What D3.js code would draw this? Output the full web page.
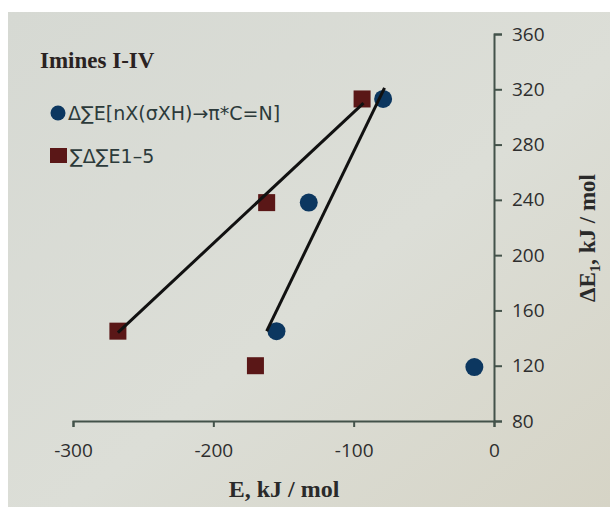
<!DOCTYPE html>
<html>
<head>
<meta charset="utf-8">
<script src="https://cdn.jsdelivr.net/npm/d3@7"></script>
<style>
  body { margin: 0; background: #fff; }
</style>
</head>
<body>
<div id="chart"></div>
<script>
// series 1: circles
const circleX = [-79, -132, -155, -14];
const circleY = [313, 238, 145, 119];
// series 2: squares
const squareX = [-94, -162, -268, -170];
const squareY = [313, 238, 145, 120];
// trend line end points
const circleFitX = [-162, -78];
const circleFitY = [145, 321];
const squareFitX = [-268, -93];
const squareFitY = [144, 310];

const xTicks = [-300, -200, -100, 0];
const yTicks = [80, 120, 160, 200, 240, 280, 320, 360];

const title = "Imines I-IV";
const legendNames = ["Δ∑E[nX(σXH)→π*C=N]", "∑Δ∑E1–5"];

const width = 610, height = 507;

const svg = d3.select("#chart").append("svg")
  .attr("width", width)
  .attr("height", height);

// photo-like background
const defs = svg.append("defs");
const grad = defs.append("linearGradient").attr("id", "bg")
  .attr("x1", 0).attr("y1", 0).attr("x2", 1).attr("y2", 1);
grad.append("stop").attr("offset", "0%").attr("stop-color", "#d6d9d3");
grad.append("stop").attr("offset", "55%").attr("stop-color", "#dcded7");
grad.append("stop").attr("offset", "100%").attr("stop-color", "#d6d4c6");
svg.append("rect")
  .attr("x", 8).attr("y", 12)
  .attr("width", width - 8).attr("height", height - 12)
  .attr("fill", "url(#bg)");

const x = d3.scaleLinear().domain([-300, 0]).range([73, 494]);
const y = d3.scaleLinear().domain([80, 360]).range([421, 34]);

const axisColor = "#43524a";

// x axis (bottom, at y = 80)
const xAxis = svg.append("g")
  .attr("transform", `translate(0,${y(80)})`)
  .call(d3.axisBottom(x).tickValues(xTicks).tickSize(6).tickPadding(17)
    .tickFormat(d3.format("d")));
xAxis.select(".domain").attr("stroke", axisColor).attr("stroke-width", 2);
xAxis.selectAll(".tick line").attr("stroke", axisColor).attr("stroke-width", 2);
xAxis.selectAll(".tick text")
  .attr("font-family", "Open Sans, sans-serif")
  .attr("font-size", 19)
  .attr("fill", "#2e2e2e")
  .text(d => d < 0 ? "-" + Math.abs(d) : d);

// y axis (right, at x = 0)
const yAxis = svg.append("g")
  .attr("transform", `translate(${x(0)},0)`)
  .call(d3.axisRight(y).tickValues(yTicks).tickSize(8).tickPadding(10));
yAxis.select(".domain").attr("stroke", axisColor).attr("stroke-width", 2);
yAxis.selectAll(".tick line").attr("stroke", axisColor).attr("stroke-width", 2);
yAxis.selectAll(".tick text")
  .attr("font-family", "Open Sans, sans-serif")
  .attr("font-size", 19)
  .attr("fill", "#2e2e2e");

// axis titles
svg.append("text")
  .attr("x", 284).attr("y", 497)
  .attr("text-anchor", "middle")
  .attr("font-family", "Liberation Serif, serif")
  .attr("font-weight", "bold")
  .attr("font-size", 24)
  .attr("fill", "#2a2a2a")
  .text("E, kJ / mol");

const yTitle = svg.append("text")
  .attr("transform", "translate(595,238) rotate(-90)")
  .attr("text-anchor", "middle")
  .attr("font-family", "Liberation Serif, serif")
  .attr("font-weight", "bold")
  .attr("font-size", 23)
  .attr("fill", "#2a2a2a");
yTitle.append("tspan").text("ΔE");
yTitle.append("tspan").attr("dy", 5).attr("font-size", 15).text("1");
yTitle.append("tspan").attr("dy", -5).text(", kJ / mol");

const circleColor = "#0c3760";
const squareColor = "#5a1717";

// markers
const circles = d3.zip(circleX, circleY);
const squares = d3.zip(squareX, squareY);

svg.append("g").selectAll("circle")
  .data(circles)
  .enter().append("circle")
  .attr("cx", d => x(d[0]))
  .attr("cy", d => y(d[1]))
  .attr("r", 9)
  .attr("fill", circleColor);

const sq = 17;
svg.append("g").selectAll("rect")
  .data(squares)
  .enter().append("rect")
  .attr("x", d => x(d[0]) - sq / 2)
  .attr("y", d => y(d[1]) - sq / 2)
  .attr("width", sq).attr("height", sq)
  .attr("fill", squareColor);

// trend lines
const line = d3.line().x(d => x(d[0])).y(d => y(d[1]));
svg.append("path")
  .datum(d3.zip(squareFitX, squareFitY))
  .attr("d", line)
  .attr("fill", "none").attr("stroke", "#111").attr("stroke-width", 3);
svg.append("path")
  .datum(d3.zip(circleFitX, circleFitY))
  .attr("d", line)
  .attr("fill", "none").attr("stroke", "#111").attr("stroke-width", 3);

// title + legend
svg.append("text")
  .attr("x", 40).attr("y", 68)
  .attr("font-family", "Liberation Serif, serif")
  .attr("font-weight", "bold")
  .attr("font-size", 23)
  .attr("fill", "#2a2222")
  .text(title);

const legend = svg.append("g");
legend.append("circle")
  .attr("cx", 58).attr("cy", 113).attr("r", 7.5)
  .attr("fill", circleColor);
legend.append("text")
  .attr("x", 68).attr("y", 120)
  .attr("font-family", "DejaVu Sans, sans-serif")
  .attr("font-size", 19)
  .attr("fill", "#2c3a3a")
  .text(legendNames[0]);
legend.append("rect")
  .attr("x", 50).attr("y", 148).attr("width", 17).attr("height", 15)
  .attr("fill", squareColor);
legend.append("text")
  .attr("x", 70).attr("y", 163)
  .attr("font-family", "DejaVu Sans, sans-serif")
  .attr("font-size", 19)
  .attr("fill", "#2c3a3a")
  .text(legendNames[1]);
</script>
</body>
</html>
